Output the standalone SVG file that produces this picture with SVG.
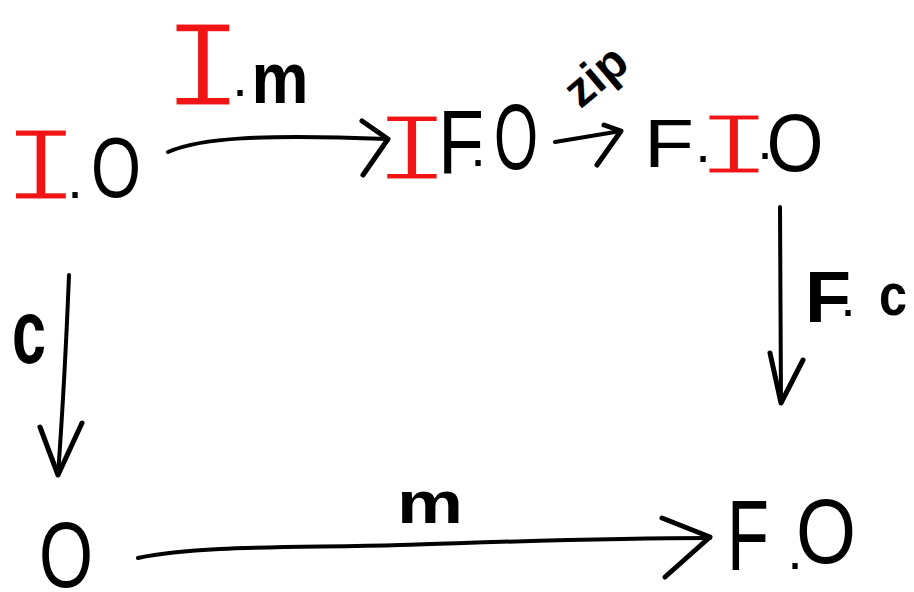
<svg xmlns="http://www.w3.org/2000/svg" width="914" height="592" viewBox="0 0 914 592">
<style>
.k{fill:#000;font-family:"Liberation Sans",Arial,sans-serif;text-anchor:middle}
.b{font-weight:bold}
.d{fill:#000;font-family:"Liberation Sans",Arial,sans-serif;text-anchor:middle;font-size:56px}
.r{fill:#f01414;stroke:#fff;stroke-width:3px;font-family:"Liberation Mono","Courier New",monospace;text-anchor:middle}
.ln{fill:none;stroke:#000;stroke-width:4;stroke-linecap:round;stroke-linejoin:round}
.hd{fill:none;stroke:#000;stroke-width:5;stroke-linecap:round;stroke-linejoin:round}
</style>
<rect width="914" height="592" fill="#fff"/>
<g id="connectors">
<path class="ln" d="M168,152 C200,138 260,134 388,139"/>
<path class="hd" d="M362,121 L388,139 L363,175"/>
<path class="ln" d="M555,142 L621,131"/>
<path class="hd" d="M604,125 L621,131 L597,165"/>
<path class="ln" d="M780,207 L781,403"/>
<path class="hd" d="M770,353 L781,403 L803,360"/>
<path class="ln" d="M69,275 C66,350 62,420 58,475"/>
<path class="hd" d="M40,427 L58,475 L82,423"/>
<path class="ln" d="M138,558 C200,545 300,548 400,545 S600,538 710,538"/>
<path class="hd" d="M662,518 L710,537 L665,577"/>
</g>
<g id="node-IO">
<text class="r" x="41" y="200" font-size="108" textLength="80" lengthAdjust="spacingAndGlyphs">I</text>
<text class="d" x="75" y="198">.</text>
<text class="k" x="116" y="197" font-size="86" textLength="50" lengthAdjust="spacingAndGlyphs">O</text>
</g>
<g id="label-Im">
<text class="r" x="203" y="106" font-size="126" textLength="84" lengthAdjust="spacingAndGlyphs">I</text>
<text class="d" x="240" y="96">.</text>
<text class="k b" x="280" y="103" font-size="73" textLength="57" lengthAdjust="spacingAndGlyphs">m</text>
</g>
<g id="node-IFO">
<text class="r" x="412" y="180" font-size="98" textLength="80" lengthAdjust="spacingAndGlyphs">I</text>
<text class="k" x="461" y="173" font-size="90" textLength="46" lengthAdjust="spacingAndGlyphs">F</text>
<text class="d" x="478" y="166">.</text>
<text class="k" x="516" y="169" font-size="92" textLength="44" lengthAdjust="spacingAndGlyphs">O</text>
</g>
<g id="label-zip">
<text class="k b" x="0" y="0" font-size="48" transform="translate(606,88) rotate(-40)">zip</text>
</g>
<g id="node-FIO">
<text class="k" x="669" y="167" font-size="68" textLength="50" lengthAdjust="spacingAndGlyphs">F</text>
<text class="d" x="703" y="162">.</text>
<text class="r" x="734" y="174" font-size="90" textLength="80" lengthAdjust="spacingAndGlyphs">I</text>
<text class="d" x="765" y="159">.</text>
<text class="k" x="795" y="171" font-size="82" textLength="57" lengthAdjust="spacingAndGlyphs">O</text>
</g>
<g id="label-Fc">
<text class="k b" x="828" y="322" font-size="72" textLength="46" lengthAdjust="spacingAndGlyphs">F</text>
<text class="d" x="848" y="316">.</text>
<text class="k b" x="893" y="315" font-size="60" textLength="28" lengthAdjust="spacingAndGlyphs">c</text>
</g>
<g id="label-c">
<text class="k b" x="29" y="363" font-size="90" textLength="34" lengthAdjust="spacingAndGlyphs">c</text>
</g>
<g id="node-O">
<text class="k" x="66" y="587" font-size="92" textLength="54" lengthAdjust="spacingAndGlyphs">O</text>
</g>
<g id="label-m">
<text class="k b" x="430" y="523" font-size="60" textLength="66" lengthAdjust="spacingAndGlyphs">m</text>
</g>
<g id="node-FO">
<text class="k" x="748" y="570" font-size="100" textLength="42" lengthAdjust="spacingAndGlyphs">F</text>
<text class="d" x="795" y="569">.</text>
<text class="k" x="826" y="563" font-size="90" textLength="60" lengthAdjust="spacingAndGlyphs">O</text>
</g>
</svg>
